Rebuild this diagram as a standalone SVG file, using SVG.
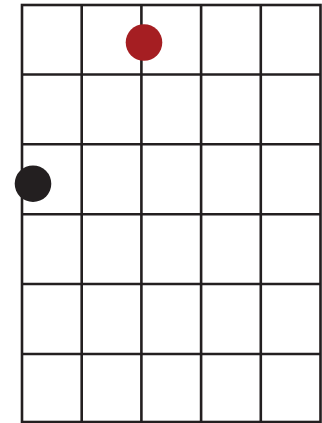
<svg xmlns="http://www.w3.org/2000/svg" width="322" height="423" viewBox="0 0 322 423">
<style>
.g{stroke:#231f20;stroke-width:2.6;fill:none}
</style>
<rect width="322" height="423" fill="#fff"/>
<g id="grid" class="g">
<rect x="22" y="5" width="298.5" height="417"/>
<line x1="81.7" y1="5" x2="81.7" y2="422"/>
<line x1="141.4" y1="5" x2="141.4" y2="422"/>
<line x1="201.1" y1="5" x2="201.1" y2="422"/>
<line x1="260.8" y1="5" x2="260.8" y2="422"/>
<line x1="22" y1="74.5" x2="320.5" y2="74.5"/>
<line x1="22" y1="144.2" x2="320.5" y2="144.2"/>
<line x1="22" y1="214.2" x2="320.5" y2="214.2"/>
<line x1="22" y1="284" x2="320.5" y2="284"/>
<line x1="22" y1="354" x2="320.5" y2="354"/>
</g>
<g id="red"><circle cx="144" cy="42.5" r="18.3" fill="#a51e22"/></g>
<g id="black"><circle cx="33" cy="183.7" r="18.3" fill="#231f20"/></g>
</svg>
